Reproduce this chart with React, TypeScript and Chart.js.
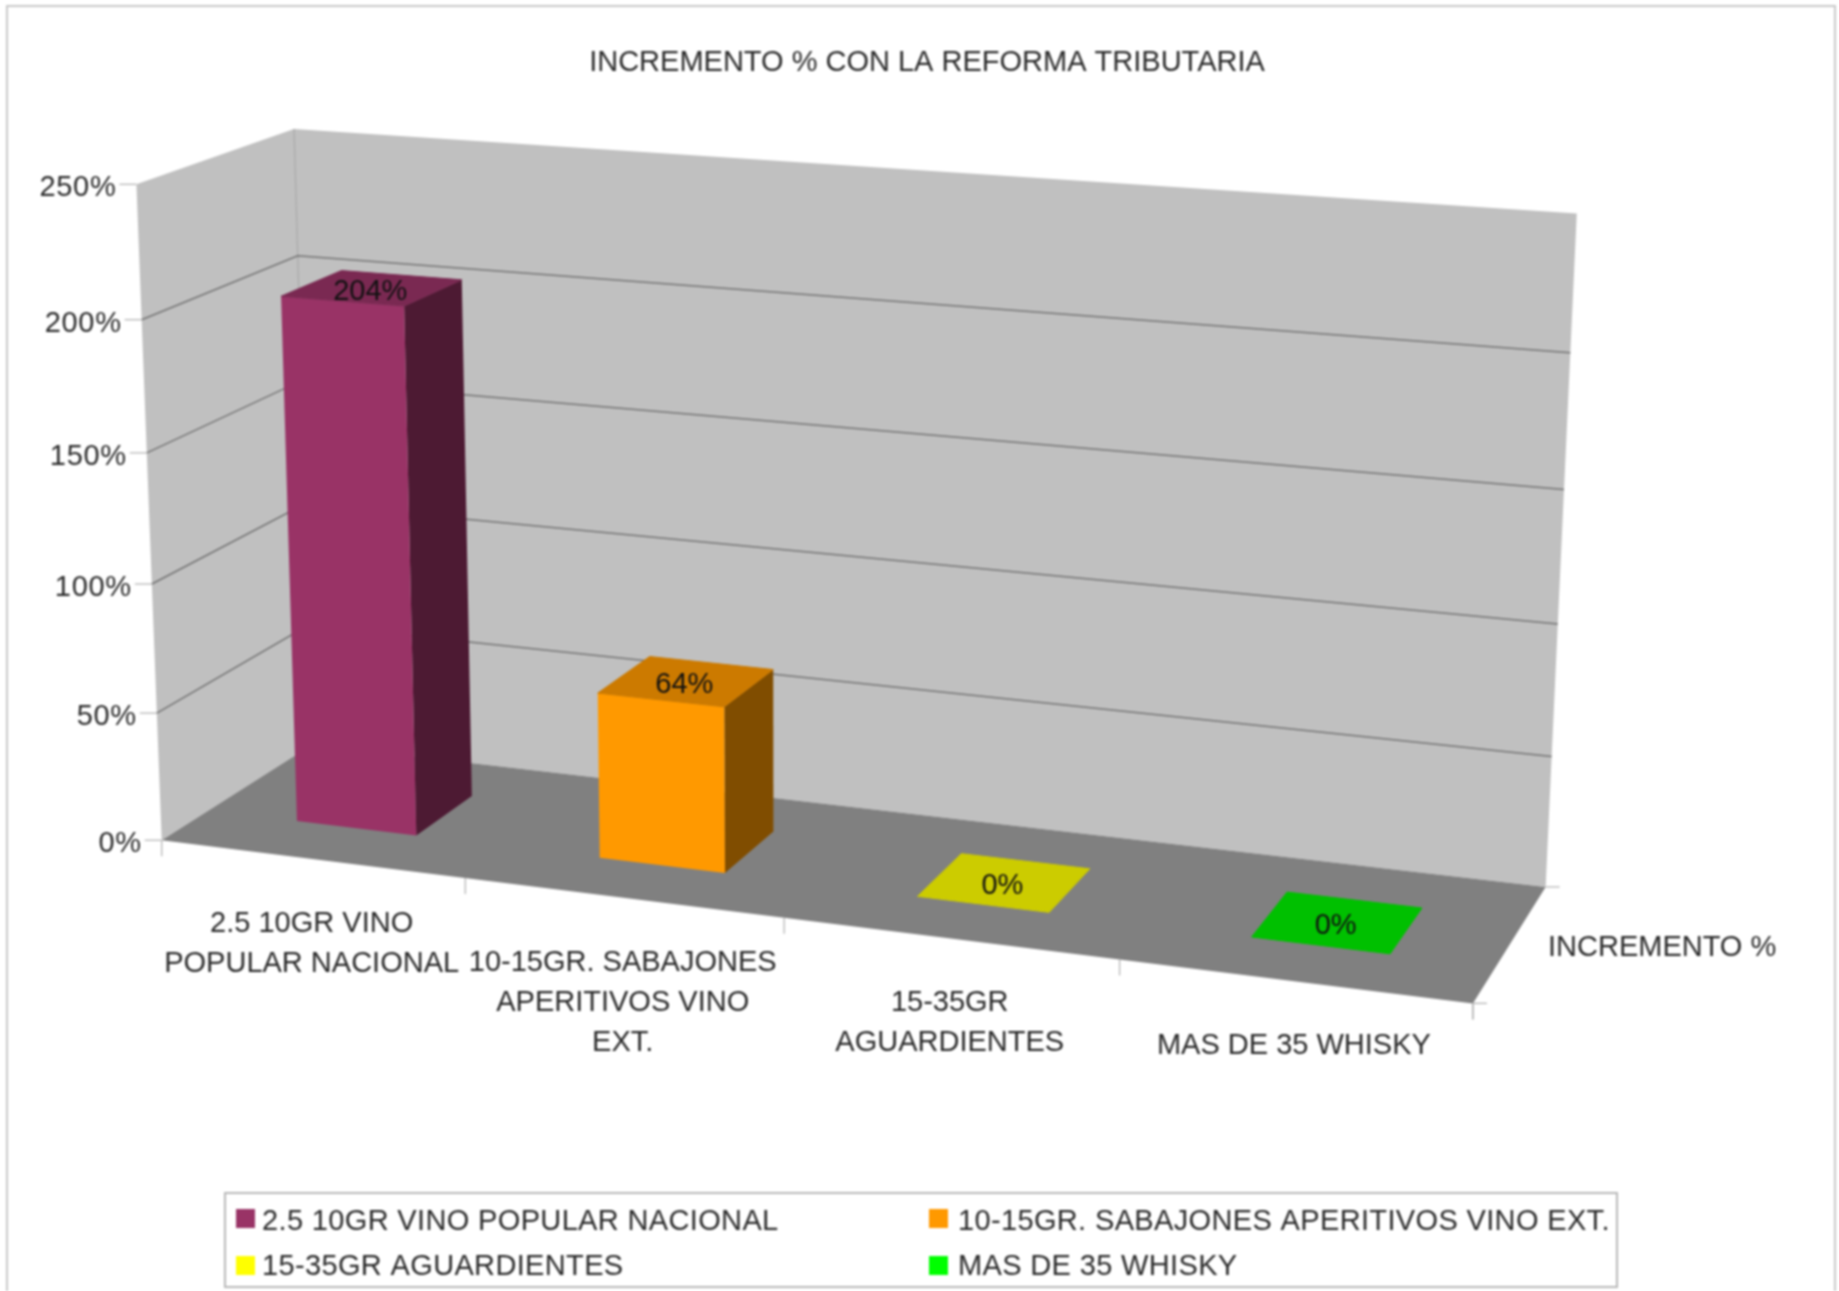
import React, { useEffect, useRef } from "react";
import { Chart, registerables } from "chart.js";

Chart.register(...registerables);

const categoryLines = [
  ["2.5 10GR VINO", "POPULAR NACIONAL"],
  ["10-15GR. SABAJONES", "APERITIVOS VINO", "EXT."],
  ["15-35GR", "AGUARDIENTES"],
  ["MAS DE 35 WHISKY"],
];
const seriesName = "INCREMENTO %";
const values = [204, 64, 0, 0];
const frontColors = ["#993366", "#FF9900", "#FFFF00", "#00FF00"];
const topColors = ["#7A2952", "#CC7A00", "#CCCC00", "#00C000"];
const sideColors = ["#4D1A33", "#804D00", "#808000", "#008000"];
const chartTitle = "INCREMENTO % CON LA REFORMA TRIBUTARIA";
const yMax = 250;
const yStep = 50;

// Calibration of the 3D frame: [u, v, z] -> [px, py]
const calibration: number[][] = [
  [0, 1, 0, 137.6, 183], [0, 0.8, 0, 142, 319], [0, 0.6, 0, 146, 453], [0, 0.4, 0, 151, 585], [0, 0.2, 0, 157, 713], [0, 0, 0, 162, 838],
  [0.25, 0, 0, 466, 878], [0.5, 0, 0, 784.5, 920], [0.75, 0, 0, 1119, 961], [1, 0, 0, 1472, 1003],
  [0, 1, 1, 294.5, 130], [0, 0.8, 1, 296.4, 256], [0, 0, 1, 312, 745],
  [1, 1, 1, 1577, 213], [1, 0.8, 1, 1569, 353], [1, 0.4, 1, 1560, 625], [1, 0.2, 1, 1551, 756], [1, 0, 1, 1546, 885],
];

function solve(A: number[][], b: number[]) {
  const n = b.length;
  const M = A.map((r, i) => [...r, b[i]]);
  for (let c = 0; c < n; c++) {
    let p = c;
    for (let r = c + 1; r < n; r++) if (Math.abs(M[r][c]) > Math.abs(M[p][c])) p = r;
    [M[c], M[p]] = [M[p], M[c]];
    for (let r = 0; r < n; r++) {
      if (r === c) continue;
      const f = M[r][c] / M[c][c];
      for (let k = c; k <= n; k++) M[r][k] -= f * M[c][k];
    }
  }
  return M.map((r, i) => r[n] / r[i]);
}

function fitProjection() {
  const rows: number[][] = [];
  const rhs: number[] = [];
  for (const [X, Y, Z, px, py] of calibration) {
    const x = px / 1000, y = py / 1000;
    rows.push([X, Y, Z, 1, 0, 0, 0, 0, -x * X, -x * Y, -x * Z]);
    rhs.push(x);
    rows.push([0, 0, 0, 0, X, Y, Z, 1, -y * X, -y * Y, -y * Z]);
    rhs.push(y);
  }
  const n = 11;
  const AtA = Array.from({ length: n }, () => new Array(n).fill(0));
  const Atb = new Array(n).fill(0);
  rows.forEach((r, i) => {
    for (let a = 0; a < n; a++) {
      Atb[a] += r[a] * rhs[i];
      for (let c = 0; c < n; c++) AtA[a][c] += r[a] * r[c];
    }
  });
  return solve(AtA, Atb);
}
const P = fitProjection();
function project(u: number, v: number, z: number): [number, number] {
  const w = P[8] * u + P[9] * v + P[10] * z + 1;
  return [
    (1000 * (P[0] * u + P[1] * v + P[2] * z + P[3])) / w,
    (1000 * (P[4] * u + P[5] * v + P[6] * z + P[7])) / w,
  ];
}

const BAR_Z_FRONT = 0.3;
const BAR_Z_BACK = 0.7;
const FONT = '"Liberation Sans", Arial, sans-serif';

function poly(ctx: CanvasRenderingContext2D, pts: [number, number][], fill: string | null, stroke?: string) {
  ctx.beginPath();
  pts.forEach((p, i) => (i ? ctx.lineTo(p[0], p[1]) : ctx.moveTo(p[0], p[1])));
  ctx.closePath();
  if (fill) { ctx.fillStyle = fill; ctx.fill(); }
  if (stroke) { ctx.strokeStyle = stroke; ctx.lineWidth = 1; ctx.stroke(); }
}
function line(ctx: CanvasRenderingContext2D, pts: [number, number][], color: string, width = 1.5) {
  ctx.beginPath();
  pts.forEach((p, i) => (i ? ctx.lineTo(p[0], p[1]) : ctx.moveTo(p[0], p[1])));
  ctx.strokeStyle = color;
  ctx.lineWidth = width;
  ctx.stroke();
}
function text(ctx: CanvasRenderingContext2D, s: string, x: number, y: number, align: CanvasTextAlign = "center", color = "#2A2A2A", size = 29, spacing = 0) {
  ctx.font = `${size}px ${FONT}`;
  (ctx as any).letterSpacing = `${spacing}px`;
  ctx.textAlign = align;
  ctx.textBaseline = "middle";
  ctx.fillStyle = color;
  ctx.fillText(s, x, y);
}

const chart3d = {
  id: "chart3d",
  beforeDraw(chart: Chart) {
    const ctx = chart.ctx;
    ctx.save();
    ctx.fillStyle = "#FFFFFF";
    ctx.fillRect(0, 0, chart.width, chart.height);
    ctx.strokeStyle = "#C8C8C8";
    ctx.lineWidth = 2;
    ctx.strokeRect(7, 6, 1828, 1400);
    text(ctx, chartTitle, 927, 63);
    ctx.restore();
  },
  beforeDatasetsDraw(chart: Chart) {
    const ctx = chart.ctx;
    const yScale = chart.scales.y;
    const ca = chart.chartArea;
    const vOf = (val: number) => (ca.bottom - yScale.getPixelForValue(val)) / ca.height;
    ctx.save();
    // walls and floor
    poly(ctx, [project(0, 0, 0), project(0, 1, 0), project(0, 1, 1), project(0, 0, 1)], "#C0C0C0");
    poly(ctx, [project(0, 0, 1), project(0, 1, 1), project(1, 1, 1), project(1, 0, 1)], "#C0C0C0");
    poly(ctx, [project(0, 0, 0), project(0, 0, 1), project(1, 0, 1), project(1, 0, 0)], "#808080");
    line(ctx, [project(0, 0, 1), project(0, 1, 1)], "#A8A8A8", 1.2);
    // value axis gridlines, ticks and labels
    yScale.ticks.forEach((tick: any) => {
      const v = vOf(tick.value);
      const f = project(0, v, 0);
      if (tick.value > 0 && tick.value < yMax) line(ctx, [f, project(0, v, 1), project(1, v, 1)], "#747474");
      line(ctx, [[f[0] - 17, f[1]], f], "#B0B0B0", 1.2);
      text(ctx, String(tick.label), f[0] - 20, f[1] + 4, "right", "#2A2A2A", 29, 0.7);
    });
    // category ticks and labels
    const xScale = chart.scales.x;
    [0, 1, 2, 3, 4].forEach((i) => {
      const u = ((xScale.getPixelForValue(0) + (i - 0.5) * (xScale.getPixelForValue(1) - xScale.getPixelForValue(0))) - ca.left) / ca.width;
      const p = project(u, 0, 0);
      line(ctx, [p, [p[0], p[1] + 16]], "#B0B0B0", 1.2);
    });
    categoryLines.forEach((lines, i) => {
      const u = (xScale.getPixelForValue(i) - ca.left) / ca.width;
      const p = project(u, 0, 0);
      lines.forEach((s, k) => text(ctx, s, p[0], p[1] + 65 + k * 40));
    });
    // depth axis
    const br = project(1, 0, 1);
    const fr = project(1, 0, 0);
    line(ctx, [br, [br[0] + 14, br[1]]], "#B0B0B0", 1.2);
    line(ctx, [[fr[0], fr[1] + 16], fr, [fr[0] + 14, fr[1]]], "#B0B0B0", 1.2);
    text(ctx, seriesName, 1548, 948, "left");
    ctx.restore();
  },
  beforeDatasetDraw() {
    return false;
  },
  afterDatasetsDraw(chart: Chart) {
    const ctx = chart.ctx;
    const ca = chart.chartArea;
    const meta = chart.getDatasetMeta(0);
    ctx.save();
    const toU = (x: number) => (x - ca.left) / ca.width;
    const toV = (y: number) => (ca.bottom - y) / ca.height;
    const zf = BAR_Z_FRONT, zb = BAR_Z_BACK;
    meta.data.forEach((el: any, i: number) => {
      const u0 = toU(el.x - el.width / 2), u1 = toU(el.x + el.width / 2);
      const vt = toV(el.y), vb = toV(el.base);
      if (values[i] > 0) {
        poly(ctx, [project(u1, vb, zf), project(u1, vb, zb), project(u1, vt, zb), project(u1, vt, zf)], sideColors[i]);
        poly(ctx, [project(u0, vb, zf), project(u1, vb, zf), project(u1, vt, zf), project(u0, vt, zf)], frontColors[i]);
      }
      poly(ctx, [project(u0, vt, zf), project(u1, vt, zf), project(u1, vt, zb), project(u0, vt, zb)], topColors[i], topColors[i]);
    });
    meta.data.forEach((el: any, i: number) => {
      const p = project(toU(el.x), toV(el.y), (zf + zb) / 2);
      text(ctx, `${values[i]}%`, p[0] - 2, p[1] + 4, "center", "#111111");
    });
    // legend
    ctx.fillStyle = "#FFFFFF";
    ctx.fillRect(225, 1193, 1392, 94);
    ctx.strokeStyle = "#B8B8B8";
    ctx.lineWidth = 2;
    ctx.strokeRect(225, 1193, 1392, 94);
    const cols = [236, 929];
    const rows = [1209, 1256];
    const textRows = [1222, 1267];
    const textCols = [262, 958];
    categoryLines.forEach((lines, i) => {
      const r = Math.floor(i / 2);
      ctx.fillStyle = frontColors[i];
      ctx.fillRect(cols[i % 2], rows[r], 19, 19);
      text(ctx, lines.join(" "), textCols[i % 2], textRows[r], "left", "#2A2A2A", 29, 0.35);
    });
    ctx.restore();
  },
};

export default function App() {
  const ref = useRef<HTMLCanvasElement>(null);
  useEffect(() => {
    const chart = new Chart(ref.current!, {
      type: "bar",
      data: {
        labels: categoryLines as any,
        datasets: [{ label: seriesName, data: values, backgroundColor: frontColors, barPercentage: 0.4, categoryPercentage: 1 }],
      },
      options: {
        responsive: false,
        animation: false,
        layout: { padding: 0 },
        scales: {
          x: { display: false },
          y: { display: false, min: 0, max: yMax, ticks: { stepSize: yStep, callback: (v: any) => `${v}%` } },
        },
        plugins: { legend: { display: false }, title: { display: false }, tooltip: { enabled: false } },
      },
      plugins: [chart3d as any],
    });
    return () => chart.destroy();
  }, []);
  return (
    <div style={{ position: "fixed", left: 0, top: 0, width: 1839, height: 1291, overflow: "hidden", background: "#fff" }}>
      <canvas ref={ref} width={1839} height={1291} style={{ display: "block", filter: "blur(0.9px)" }} />
    </div>
  );
}
